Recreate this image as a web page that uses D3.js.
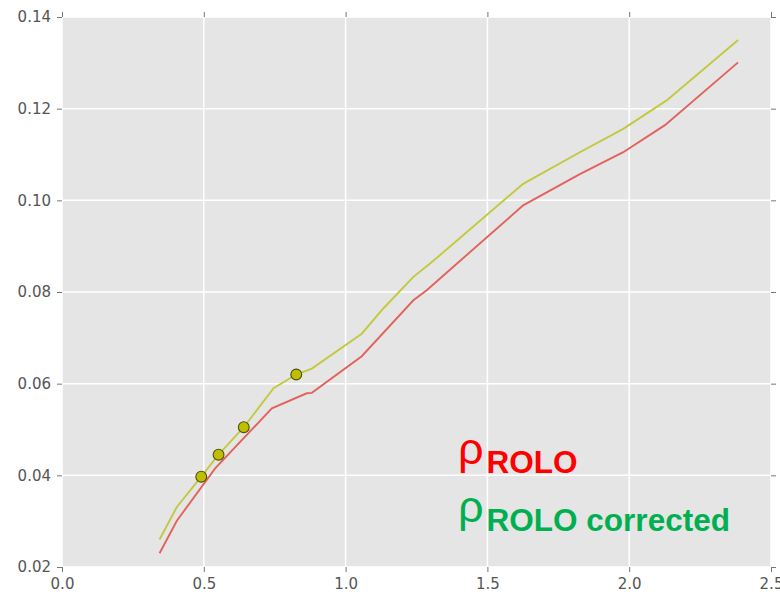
<!DOCTYPE html>
<html>
<head>
<meta charset="utf-8">
<script src="https://cdn.jsdelivr.net/npm/d3@7"></script>
<style>
  body { margin: 0; background: #fff; }
  .tick text { font-family: "DejaVu Sans", sans-serif; font-size: 15px; fill: #555; }
</style>
</head>
<body>
<div class="canva"></div>
<script>
// rho ROLO (red line)
const roloX = [0.344, 0.405, 0.540, 0.740, 0.863, 0.881, 1.057, 1.239, 1.286, 1.626, 1.826, 1.979, 2.126, 2.384];
const roloY = [0.0230, 0.0301, 0.0415, 0.0546, 0.0579, 0.0580, 0.0660, 0.0782, 0.0804, 0.0989, 0.1057, 0.1105, 0.1164, 0.1301];

// rho ROLO corrected (yellow line)
const corrX = [0.344, 0.405, 0.491, 0.552, 0.641, 0.746, 0.826, 0.881, 1.057, 1.133, 1.239, 1.298, 1.626, 1.826, 1.979, 2.132, 2.384];
const corrY = [0.0260, 0.0331, 0.0397, 0.0445, 0.0505, 0.0590, 0.0620, 0.0633, 0.0709, 0.0764, 0.0833, 0.0862, 0.1036, 0.1105, 0.1156, 0.1218, 0.1350];

// measured points
const dotX = [0.491, 0.552, 0.641, 0.826];
const dotY = [0.0397, 0.0445, 0.0505, 0.0620];

const xTicks = [0.0, 0.5, 1.0, 1.5, 2.0, 2.5];
const yTicks = [0.02, 0.04, 0.06, 0.08, 0.10, 0.12, 0.14];

const margin = {top: 17, right: 9, bottom: 27, left: 62};
const width = 780, height = 594;
const graphWidth = width - margin.left - margin.right;
const graphHeight = height - margin.top - margin.bottom;

const svg = d3.select(".canva").append("svg")
    .attr("width", width)
    .attr("height", height);

const g = svg.append("g")
    .attr("transform", `translate(${margin.left},${margin.top})`);

const x = d3.scaleLinear().domain([0, 2.5]).range([0, graphWidth]);
const y = d3.scaleLinear().domain([0.02, 0.14]).range([graphHeight, 0]);

g.append("rect")
    .attr("width", graphWidth)
    .attr("height", graphHeight)
    .attr("fill", "#e5e5e5");

// grid
g.selectAll(".vgrid").data(xTicks).enter().append("line")
    .attr("x1", d => x(d)).attr("x2", d => x(d))
    .attr("y1", 0).attr("y2", graphHeight)
    .attr("stroke", "#fff").attr("stroke-width", 1.5);
g.selectAll(".hgrid").data(yTicks).enter().append("line")
    .attr("y1", d => y(d)).attr("y2", d => y(d))
    .attr("x1", 0).attr("x2", graphWidth)
    .attr("stroke", "#fff").attr("stroke-width", 1.5);

// axes (ticks on all four sides, labels bottom/left)
const fmtX = d3.format(".1f");
const fmtY = d3.format(".2f");

const styleAxis = sel => {
    sel.select(".domain").remove();
    sel.selectAll(".tick line").attr("stroke", "#777");
};

g.append("g").attr("transform", `translate(0,${graphHeight})`)
    .call(d3.axisBottom(x).tickValues(xTicks).tickFormat(fmtX).tickSize(5).tickPadding(6))
    .call(styleAxis);
g.append("g")
    .call(d3.axisLeft(y).tickValues(yTicks).tickFormat(fmtY).tickSize(5).tickPadding(6))
    .call(styleAxis);
g.append("g")
    .call(d3.axisTop(x).tickValues(xTicks).tickFormat("").tickSize(5))
    .call(styleAxis);
g.append("g").attr("transform", `translate(${graphWidth},0)`)
    .call(d3.axisRight(y).tickValues(yTicks).tickFormat("").tickSize(5))
    .call(styleAxis);

const line = d3.line()
    .x(d => x(d[0]))
    .y(d => y(d[1]));

g.append("path")
    .datum(roloX.map((d, i) => [d, roloY[i]]))
    .attr("fill", "none")
    .attr("stroke", "#e2625c")
    .attr("stroke-width", 1.9)
    .attr("d", line);

g.append("path")
    .datum(corrX.map((d, i) => [d, corrY[i]]))
    .attr("fill", "none")
    .attr("stroke", "#c3c93e")
    .attr("stroke-width", 1.9)
    .attr("d", line);

g.selectAll(".dot").data(dotX).enter().append("circle")
    .attr("cx", d => x(d))
    .attr("cy", (d, i) => y(dotY[i]))
    .attr("r", 5.4)
    .attr("fill", "#bfbf00")
    .attr("stroke", "#4d4d10")
    .attr("stroke-width", 1.1);

// labels
const lab1 = svg.append("text")
    .attr("x", 458).attr("y", 464)
    .attr("font-family", "Liberation Sans, Arial, sans-serif")
    .attr("fill", "#ff0000");
lab1.append("tspan").attr("font-size", 45).text("ρ");
lab1.append("tspan").attr("font-size", 31.5).attr("font-weight", "bold")
    .attr("dx", 3).attr("dy", 9).text("ROLO");

const lab2 = svg.append("text")
    .attr("x", 458).attr("y", 522)
    .attr("font-family", "Liberation Sans, Arial, sans-serif")
    .attr("fill", "#00b050");
lab2.append("tspan").attr("font-size", 45).text("ρ");
lab2.append("tspan").attr("font-size", 31.5).attr("font-weight", "bold")
    .attr("dx", 3).attr("dy", 9).text("ROLO corrected");
</script>
</body>
</html>
